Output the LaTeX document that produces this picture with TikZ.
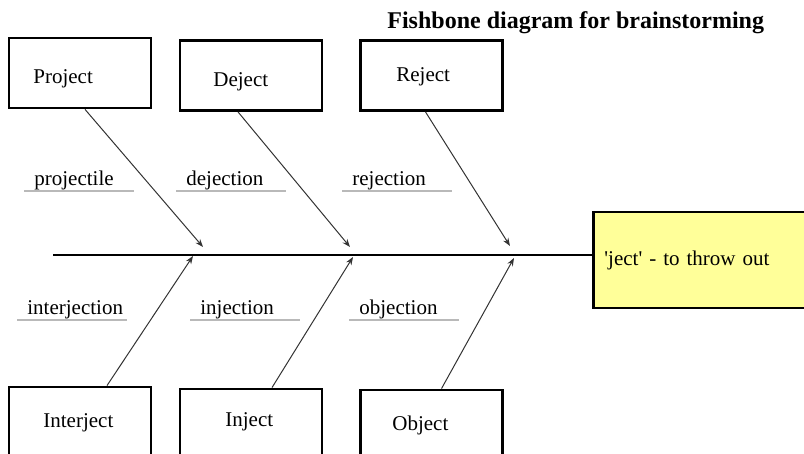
\documentclass[tikz,border=0pt]{standalone}
\usepackage{fontspec}
\setmainfont{Liberation Serif}
\usetikzlibrary{arrows.meta,positioning,calc}
\definecolor{headfill}{HTML}{FFFF99}

\begin{document}
\begin{tikzpicture}[x=0.5pt,y=0.5pt,
  cause/.style={draw,line width=1.4pt,minimum width=71pt,minimum height=35pt,inner sep=0pt},
  tx/.style={font=\fontsize{10.5}{12}\selectfont,inner sep=0pt,anchor=base west},
  cat/.style={font=\fontsize{10.5}{12}\selectfont,anchor=south west,text width=44.5pt,
              align=left,inner xsep=5pt,inner ysep=0.5pt},
  ul/.style={gray!55,line width=0.6pt},
  ar/.style={-{Stealth[length=4pt,width=3pt]},line width=0.5pt,black!80},
  spn/.style={line width=1.4pt},
  hd/.style={draw,line width=1.4pt,fill=headfill,minimum width=110pt,minimum height=48pt,
             text width=99pt,align=left,inner xsep=5.5pt,font=\fontsize{10.5}{12}\selectfont},
]
\useasboundingbox (0,0) rectangle (804,454);
\clip (0,0) rectangle (804,454);
% ============ title ============
\node[font=\bfseries\fontsize{12}{14}\selectfont,anchor=base west,inner sep=0pt]
  (title) at (387,425) {Fishbone diagram for brainstorming};
% ============ head and spine ============
\node[hd,anchor=west] (head) at (592,194)
  {\textquotesingle ject\textquotesingle\ - to throw out};
\coordinate (tail) at (53,199);
\draw[spn] (tail) -- (tail-|head.west);
\coordinate (jProject) at (203,207);
\coordinate (jDeject) at (350,207);
\coordinate (jReject) at (510,208);
\coordinate (jInterject) at (193,198);
\coordinate (jInject) at (353,197);
\coordinate (jObject) at (514,196);
% ============ upper bones ============
\node[cause] (bProject) at (80,381) {};
\node[tx] (tProject) at (33,370) {Project};
\node[cause] (bDeject) at (251,378.5) {};
\node[tx] (tDeject) at (213,367) {Deject};
\node[cause] (bReject) at (431.5,378.5) {};
\node[tx] (tReject) at (396,372) {Reject};
\draw[ar] ($(bProject.south)+(5,0)$) -- (jProject);
\draw[ar] ($(bDeject.south)+(-13,0)$) -- (jDeject);
\draw[ar] ($(bReject.south)+(-6,0)$) -- (jReject);
\node[cat] (cProjectile) at (24,263) {projectile};
\node[cat] (cDejection) at (176,263) {dejection};
\node[cat] (cRejection) at (342,263) {rejection};
\draw[ul] (cProjectile.south west) -- (cProjectile.south east);
\draw[ul] (cDejection.south west) -- (cDejection.south east);
\draw[ul] (cRejection.south west) -- (cRejection.south east);
% ============ lower bones ============
\node[cause] (bInterject) at (80,32) {};
\node[tx] (tInterject) at (43,26) {Interject};
\node[cause] (bInject) at (251,30) {};
\node[tx] (tInject) at (225,27) {Inject};
\node[cause] (bObject) at (431.5,29) {};
\node[tx] (tObject) at (392,23) {Object};
\draw[ar] ($(bInterject.north)+(27,0)$) -- (jInterject);
\draw[ar] ($(bInject.north)+(21,0)$) -- (jInject);
\draw[ar] ($(bObject.north)+(10,0)$) -- (jObject);
\node[cat] (cInterjection) at (17,134) {interjection};
\node[cat] (cInjection) at (190,134) {injection};
\node[cat] (cObjection) at (349,134) {objection};
\draw[ul] (cInterjection.south west) -- (cInterjection.south east);
\draw[ul] (cInjection.south west) -- (cInjection.south east);
\draw[ul] (cObjection.south west) -- (cObjection.south east);
\end{tikzpicture}
\end{document}
